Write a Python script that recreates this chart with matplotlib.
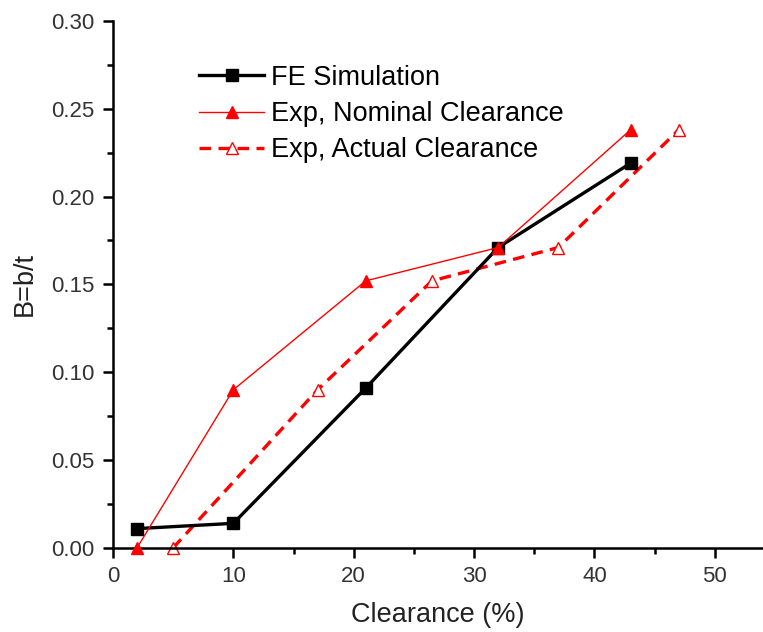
import matplotlib
matplotlib.use("Agg")
import matplotlib.pyplot as plt
from matplotlib.ticker import MultipleLocator

# ==========================================================
# Data
# ==========================================================

fe_clearance = [2, 10, 21, 32, 43]
fe_b = [0.011, 0.014, 0.091, 0.171, 0.219]

nominal_clearance = [2, 10, 21, 32, 43]
nominal_b = [0.0, 0.090, 0.152, 0.171, 0.238]

actual_clearance = [5, 17, 26.5, 37, 47]
actual_b = [0.0, 0.090, 0.152, 0.171, 0.238]

# ==========================================================
# Figure
# ==========================================================

plt.rcParams['font.family'] = ['Liberation Sans', 'DejaVu Sans']

fig = plt.figure(figsize=(7.63, 6.32), dpi=100)
ax = fig.add_axes([0.148, 0.133, 0.852, 0.834])

ax.plot(fe_clearance, fe_b, '-s', color='black', linewidth=2.4,
        markersize=8, clip_on=False, zorder=3, label='FE Simulation')
ax.plot(nominal_clearance, nominal_b, '-^', color='red', linewidth=1.0,
        markersize=9, clip_on=False, zorder=4,
        label='Exp, Nominal Clearance')
ax.plot(actual_clearance, actual_b, '--^', color='red', linewidth=2.4,
        markersize=9, markerfacecolor='white', markeredgewidth=1.0,
        dashes=(3.5, 2.2), clip_on=False, zorder=2,
        label='Exp, Actual Clearance')

# ==========================================================
# Axes formatting
# ==========================================================

ax.set_xlim(0, 54)
ax.set_ylim(0, 0.30)

ax.xaxis.set_major_locator(MultipleLocator(10))
ax.xaxis.set_minor_locator(MultipleLocator(5))
ax.yaxis.set_major_locator(MultipleLocator(0.05))
ax.yaxis.set_minor_locator(MultipleLocator(0.025))
ax.yaxis.set_major_formatter(plt.FormatStrFormatter('%.2f'))

ax.spines['top'].set_visible(False)
ax.spines['right'].set_visible(False)
ax.spines['left'].set_linewidth(1.8)
ax.spines['bottom'].set_linewidth(1.8)

ax.tick_params(which='major', direction='out', length=7, width=1.8, pad=6,
               labelsize=16, colors='black', labelcolor='#333333')
ax.tick_params(which='minor', direction='out', length=4, width=1.8)

ax.set_xlabel('Clearance (%)', fontsize=19.5, labelpad=11, color='#222222')
ax.set_ylabel('B=b/t', fontsize=19.5, labelpad=10, color='#222222')

ax.legend(loc='upper left', bbox_to_anchor=(0.116, 0.937), frameon=False,
          fontsize=19.5, handlelength=2.4, handletextpad=0.25,
          labelspacing=0.38, borderaxespad=0)

fig.savefig('out.png', dpi=100)
